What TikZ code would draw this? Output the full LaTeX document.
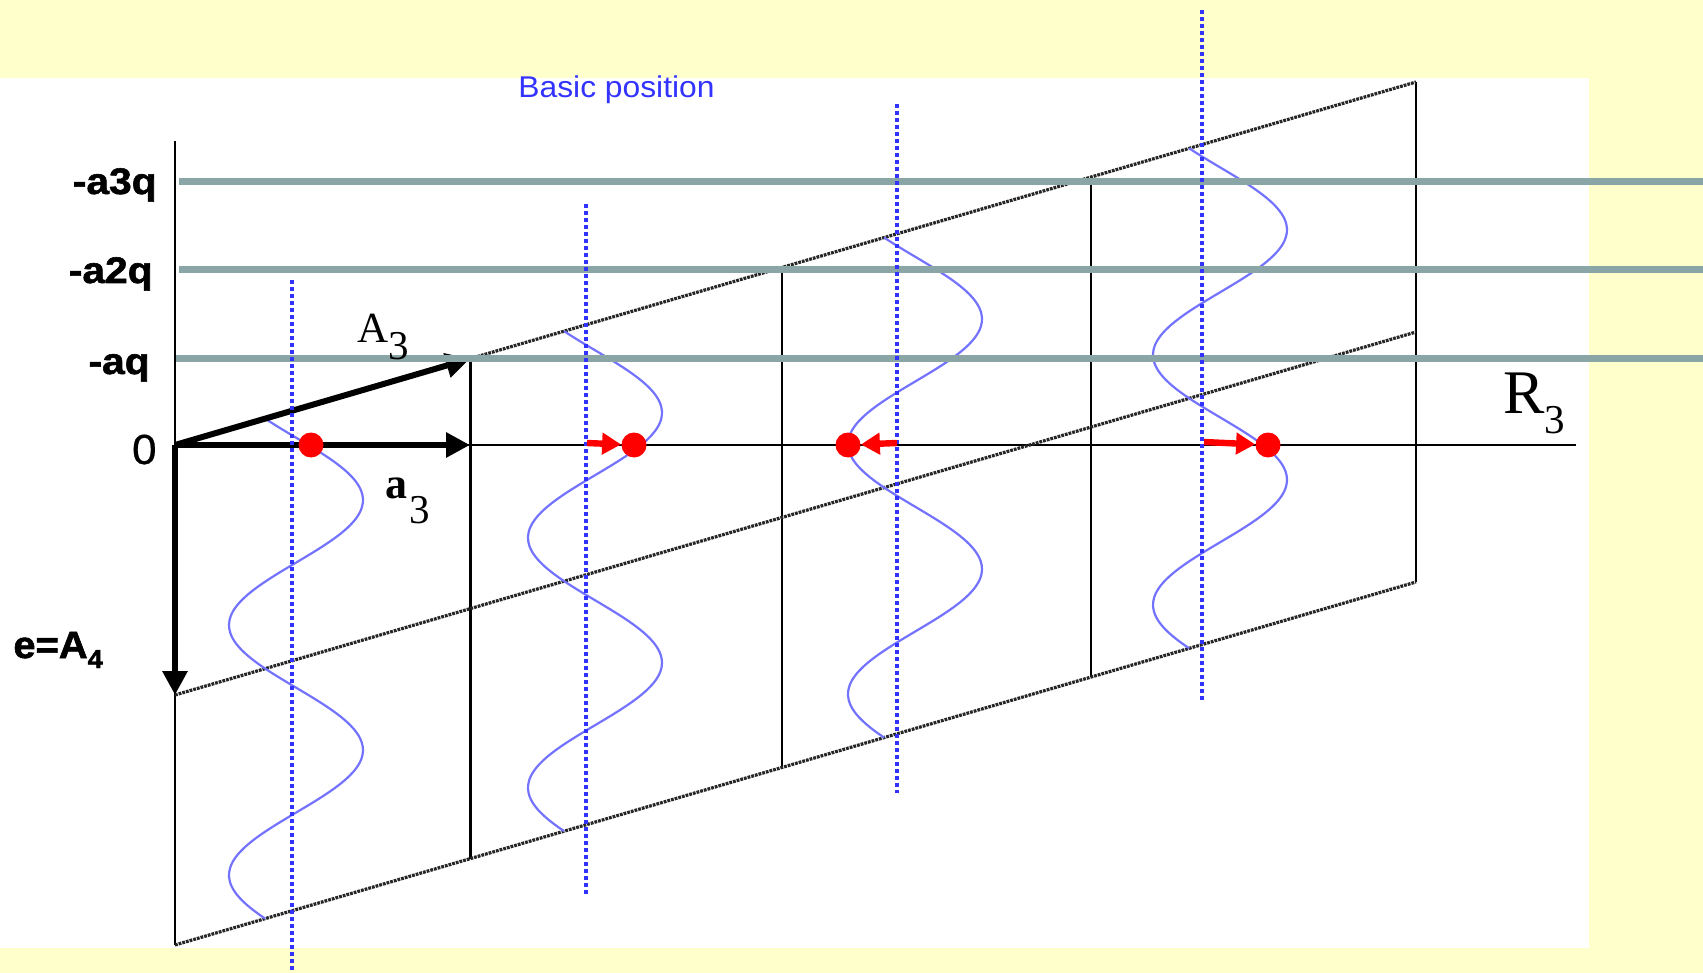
\documentclass[tikz,border=0pt]{standalone}
\usepackage{fontspec}
\setmainfont{Liberation Serif}
\newfontface\lblbold[FakeStretch=1.1,FakeBold=1.5]{Liberation Sans Bold}
\newfontface\lblreg[FakeStretch=1.05,FakeBold=0.6]{Liberation Sans}
\newfontface\eabold[FakeStretch=1.05,FakeBold=1.5]{Liberation Sans Bold}
\newfontfamily\bpfont[FakeStretch=1.06]{Liberation Sans}
\usetikzlibrary{arrows.meta}
\definecolor{bgyellow}{RGB}{255,255,204}
\definecolor{qgray}{RGB}{138,165,165}
\definecolor{dotblue}{RGB}{51,51,255}
\definecolor{wave}{RGB}{115,115,255}
\definecolor{atomred}{RGB}{255,0,0}
\begin{document}
\begin{tikzpicture}[x=0.5pt,y=-0.5pt,
  latline/.style={line width=1pt,black},
  slantline/.style={line width=1.6pt,black!85,dash pattern=on 1.4pt off 0.5pt},
  qline/.style={line width=3.5pt,qgray},
  basisarrow/.style={line width=3pt,black,-{Triangle[length=12pt,width=12pt]}},
  avgline/.style={dotblue,line width=1.8pt,dash pattern=on 1.8pt off 1.7pt},
  wavecurve/.style={wave,line width=1.1pt},
  atom/.style={circle,fill=atomred,minimum size=12.5pt,inner sep=0pt},
  shiftarrow/.style={atomred,line width=3.2pt,-{Triangle[length=9.5pt,width=10.5pt]}},
  qlabel/.style={font=\lblbold\fontsize{18.5}{20}\selectfont,inner sep=0pt,anchor=base east},
  seriflabel/.style={inner sep=0pt,anchor=base west},
]
\useasboundingbox (0,0) rectangle (1703,973);
\fill[bgyellow] (0,0) rectangle (1703,973);
\fill[white] (0,78) rectangle (1589,948);

% lattice coordinates
\coordinate (O) at (175,445);
\coordinate (axtop) at (175,141);
\coordinate (axbot) at (175,945);
\coordinate (a3tip) at (470,445);
\coordinate (A3tip) at (470,358.7);
\coordinate (Etip) at (175,695);
\coordinate (Rend) at (1576,445);
\coordinate (v1b) at (470,858.7);
\coordinate (v2t) at (782,267.5);
\coordinate (v2b) at (782,767.5);
\coordinate (v3t) at (1091,177.1);
\coordinate (v3b) at (1091,677.1);
\coordinate (v4t) at (1416,82);
\coordinate (v4m) at (1416,332);
\coordinate (v4b) at (1416,582);

% axes and lattice
\draw[latline] (axtop) -- (axbot);
\draw[line width=1.4pt] (O) -- (Rend);
\draw[line width=1.5pt] (A3tip) -- (v1b);
\draw[latline] (v2t) -- (v2b);
\draw[latline] (v3t) -- (v3b);
\draw[latline] (v4t) -- (v4b);
\draw[slantline] (A3tip) -- (v4t);
\draw[slantline] (Etip) -- (v4m);
\draw[slantline] (axbot) -- (v4b);

% modulation curves
\draw[wavecurve] plot[domain=0:500,samples=120,smooth] ({296+67*sin(\x*1.44-27.4)},{418.6+\x});
\draw[wavecurve] plot[domain=0:500,samples=120,smooth] ({595+67*sin(\x*1.44-27.4)},{331.2+\x});
\draw[wavecurve] plot[domain=0:500,samples=120,smooth] ({915+67*sin(\x*1.44-27.4)},{237.6+\x});
\draw[wavecurve] plot[domain=0:500,samples=120,smooth] ({1220+67*sin(\x*1.44-27.4)},{148.3+\x});

% basis arrows
\draw[basisarrow] (O) -- (A3tip);
\draw[basisarrow] (O) -- (a3tip);
\draw[basisarrow] (O) -- (Etip);

% q lines
\coordinate (q3s) at (179,182); \coordinate (q3e) at (1703,182);
\coordinate (q2s) at (179,270); \coordinate (q2e) at (1703,270);
\coordinate (q1s) at (176,358); \coordinate (q1e) at (1703,358);
\draw[qline] (q3s) -- (q3e);
\draw[qline] (q2s) -- (q2e);
\draw[qline] (q1s) -- (q1e);

% average positions
\coordinate (d1t) at (292,280);  \coordinate (d1b) at (292,973);
\coordinate (d2t) at (586,204);  \coordinate (d2b) at (586,896);
\coordinate (d3t) at (897,104);  \coordinate (d3b) at (897,793);
\coordinate (d4t) at (1202,10);  \coordinate (d4b) at (1202,700);
\draw[avgline] (d1t) -- (d1b);
\draw[avgline] (d2t) -- (d2b);
\draw[avgline] (d3t) -- (d3b);
\draw[avgline] (d4t) -- (d4b);

% atoms and displacements
\node[atom] (at1) at (311,445) {};
\node[atom] (at2) at (634,445) {};
\node[atom] (at3) at (848,445) {};
\node[atom] (at4) at (1268,445) {};
\coordinate (s2) at (587,443);
\coordinate (s3) at (897,443);
\coordinate (s4) at (1204,442);
\draw[shiftarrow] (s2) -- (at2);
\draw[shiftarrow] (s3) -- (at3);
\draw[shiftarrow] (s4) -- (at4);

% labels
\node[qlabel] (l3) at (157,194) {-a3q};
\node[qlabel] (l2) at (153,283) {-a2q};
\node[qlabel] (l1) at (150,374) {-aq};
\node[inner sep=0pt,anchor=base east,font=\lblreg\fontsize{21}{22}\selectfont] (l0) at (157,464) {0};
\node[inner sep=0pt,anchor=base west,font=\eabold\fontsize{19}{20}\selectfont] (le) at (13,658)
  {e=A\raisebox{-5pt}{\fontsize{13}{13}\selectfont 4}};
\node[seriflabel] (lA3) at (357,343) {\fontsize{21.5}{22}\selectfont A\raisebox{-8.5pt}{\fontsize{20.5}{20}\selectfont 3}};
\node[seriflabel] (la3) at (385,498) {\fontsize{22}{22}\selectfont\bfseries a\hspace{1pt}\mdseries\raisebox{-12.5pt}{\fontsize{20.5}{20}\selectfont 3}};
\node[seriflabel] (lR3) at (1503,413) {\fontsize{31}{31}\selectfont R\raisebox{-10pt}{\fontsize{20.5}{20}\selectfont 3}};
\node[inner sep=0pt,anchor=base west,text=dotblue,font=\bpfont\fontsize{15}{16}\selectfont] (lbp) at (518,98) {Basic position};
\end{tikzpicture}
\end{document}
